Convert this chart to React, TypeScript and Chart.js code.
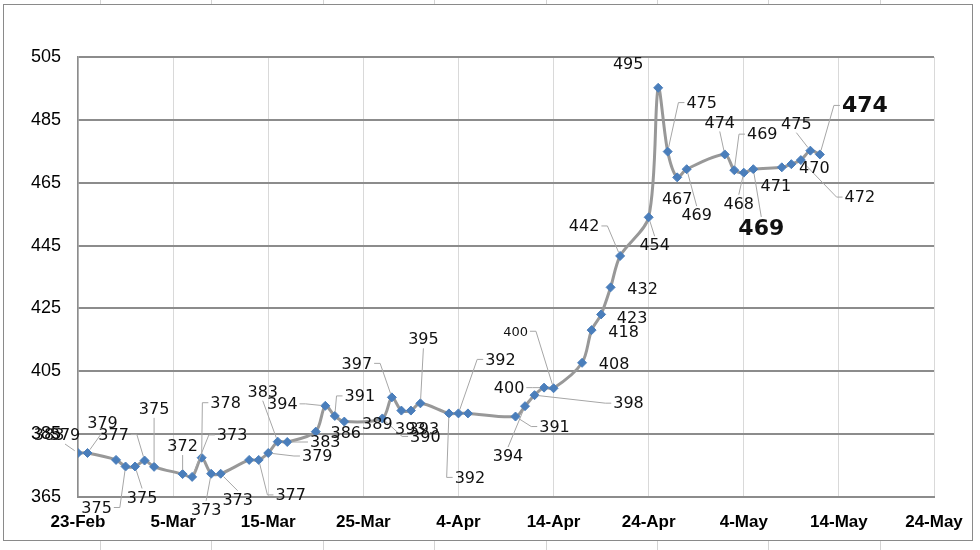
import React, { useEffect, useRef } from 'react';
import { Chart, registerables } from 'chart.js';

Chart.register(...registerables);

// ---------------- DATA ----------------
const dates = [
  '23-Feb', '24-Feb', '27-Feb', '28-Feb', '1-Mar', '2-Mar', '3-Mar',
  '6-Mar', '7-Mar', '8-Mar', '9-Mar', '10-Mar', '13-Mar', '14-Mar', '15-Mar',
  '16-Mar', '17-Mar', '20-Mar', '21-Mar', '22-Mar', '23-Mar', '27-Mar',
  '28-Mar', '29-Mar', '30-Mar', '31-Mar', '3-Apr', '4-Apr', '5-Apr',
  '10-Apr', '11-Apr', '12-Apr', '13-Apr', '14-Apr', '17-Apr', '18-Apr',
  '19-Apr', '20-Apr', '21-Apr', '24-Apr', '25-Apr', '26-Apr', '27-Apr',
  '28-Apr', '2-May', '3-May', '4-May', '5-May', '8-May', '9-May', '10-May',
  '11-May', '12-May',
];

const prices = [
  379, 379, 376.8, 374.7, 374.7, 376.6, 374.6,
  372.3, 371.4, 377.5, 372.4, 372.4, 376.8, 376.8, 379,
  382.6, 382.5, 385.8, 394, 390.8, 389, 390,
  396.7, 392.5, 392.5, 394.8, 391.6, 391.6, 391.6,
  390.6, 393.9, 397.4, 399.8, 399.6, 407.7, 418.1,
  423.1, 431.7, 441.7, 454, 495.2, 474.9, 466.7,
  469.3, 474, 469, 468.2, 469.3, 469.9, 470.9, 472.2,
  475.2, 474,
];

// data label texts as printed next to each point ('' = no label)
const labelTexts = [
  '379', '379', '383', '375', '375', '377', '375',
  '372', '373', '378', '373', '373', '', '377', '379',
  '383', '383', '386', '394', '391', '389', '390',
  '397', '393', '393', '395', '392', '392', '',
  '391', '394', '398', '400', '400', '408', '418',
  '423', '432', '442', '454', '495', '475', '467',
  '469', '474', '469', '468', '469', '471', '470', '472',
  '475', '474',
];

const tickLabels = ['23-Feb', '5-Mar', '15-Mar', '25-Mar', '4-Apr', '14-Apr', '24-Apr', '4-May', '14-May', '24-May'];
const yMin = 365;
const yMax = 505;
const yStep = 20;

// ---------------- LABEL PLACEMENT (styling) ----------------
// offset of label centre from its point, in px
const labelOffsets: [number, number][] = [
  [-13, -18], [15, -30], [-67, -25], [-29, 41], [7, 31], [-31, -26], [0, -58],
  [0, -28], [40, -42], [24, -55], [-5, 36], [17, 26], [0, 0], [32, 35], [49, 3],
  [-15, -50], [38, 0], [30, 1], [-43, -2], [25, -20], [33, 2], [43, 18],
  [-35, -34], [9, 18], [13, 18], [3, -64], [21, 64], [42, -54], [0, 0],
  [39, 10], [-17, 50], [94, 8], [-35, 0], [-38, -57], [32, 1], [32, 2],
  [31, 3], [32, 1], [-36, -30], [6, 28], [-30, -24], [34, -49], [0, 21],
  [10, 46], [-5, -32], [28, -36], [-5, 31], [8, 59], [-6, 19], [23, 4], [59, 37],
  [-14, -27], [45, -49],
];
const leaderIdx = [0, 1, 3, 4, 5, 6, 7, 8, 9, 10, 11, 13, 14, 15, 16, 18, 19, 21, 22, 25, 26, 27,
  29, 30, 31, 32, 33, 38, 39, 41, 43, 44, 45, 46, 47, 50, 51, 52];
const bigIdx = [47, 52];
const smallIdx = [33];

const MONTHS: Record<string, number> = { Jan: 0, Feb: 1, Mar: 2, Apr: 3, May: 4, Jun: 5 };
const dayOffset = (s: string) => {
  const [d, m] = s.split('-');
  return (Date.UTC(2017, MONTHS[m], +d) - Date.UTC(2017, 1, 23)) / 86400000;
};

const points = dates.map((d, i) => ({ x: dayOffset(d), y: prices[i] }));

const LABEL_FONT = '"DejaVu Sans", Verdana, sans-serif';
const AXIS_FONT = '"Liberation Sans Narrow", "Liberation Sans", Arial, sans-serif';

const labelPlugin = {
  id: 'excelLabels',
  afterDatasetsDraw(chart: any) {
    const ctx = chart.ctx as CanvasRenderingContext2D;
    const meta = chart.getDatasetMeta(0);
    ctx.save();
    const boxes: any[] = [];
    labelTexts.forEach((t, i) => {
      if (!t) return;
      const el = meta.data[i];
      const big = bigIdx.includes(i);
      const small = smallIdx.includes(i);
      const size = big ? 22 : small ? 13 : 16;
      ctx.font = `${big ? 'bold ' : ''}${size}px ${LABEL_FONT}`;
      const w = ctx.measureText(t).width;
      const h = size * 0.75;
      const cx = el.x + labelOffsets[i][0];
      const cy = el.y + labelOffsets[i][1];
      boxes.push({ t, i, cx, cy, w, h, font: ctx.font, px: el.x, py: el.y });
    });
    ctx.strokeStyle = '#a6a6a6';
    ctx.lineWidth = 1;
    boxes.forEach((b) => {
      if (!leaderIdx.includes(b.i)) return;
      const l = b.cx - b.w / 2 - 2, r = b.cx + b.w / 2 + 2;
      const t = b.cy - b.h / 2 - 3, bt = b.cy + b.h / 2 + 3;
      ctx.beginPath();
      let sx: number, sy: number;
      if (b.px < l || b.px > r) {
        const side = b.px < l ? l : r;
        const dir = b.px < l ? -1 : 1;
        ctx.moveTo(side, b.cy);
        sx = side + dir * 6; sy = b.cy;
        ctx.lineTo(sx, sy);
      } else {
        sx = b.cx; sy = b.py < t ? t : bt;
        ctx.moveTo(sx, sy);
      }
      const dx = b.px - sx, dy = b.py - sy;
      const d = Math.hypot(dx, dy) || 1;
      const stop = 4;
      ctx.lineTo(b.px - (dx / d) * stop, b.py - (dy / d) * stop);
      ctx.stroke();
    });
    ctx.fillStyle = '#111';
    ctx.textAlign = 'center';
    ctx.textBaseline = 'middle';
    boxes.forEach((b) => {
      ctx.font = b.font;
      ctx.fillText(b.t, b.cx, b.cy + 1);
    });
    ctx.restore();
  },
};

export default function App() {
  const ref = useRef<HTMLCanvasElement | null>(null);

  useEffect(() => {
    if (!ref.current) return;
    const chart = new Chart(ref.current, {
      type: 'line',
      data: {
        datasets: [
          {
            data: points,
            borderColor: '#989898',
            borderWidth: 3,
            tension: 0.3,
            pointStyle: 'rectRot',
            pointRadius: 4.5,
            pointBackgroundColor: '#4a7ebb',
            pointBorderColor: '#4a7ebb',
            pointBorderWidth: 1,
          },
        ],
      },
      options: {
        animation: false,
        responsive: false,
        maintainAspectRatio: false,
        layout: { padding: { top: 57, right: 46, left: 0, bottom: 0 } },
        plugins: { legend: { display: false }, tooltip: { enabled: false } },
        scales: {
          x: {
            type: 'linear',
            min: 0,
            max: 90,
            afterFit: (s: any) => { s.height = 53; },
            afterBuildTicks: (s: any) => {
              s.ticks = tickLabels.map((_, k) => ({ value: k * 10 }));
            },
            ticks: {
              autoSkip: false,
              maxRotation: 0,
              padding: 15,
              color: '#000',
              font: { family: AXIS_FONT, size: 17, weight: 'bold' },
              callback: (v: any) => tickLabels[Math.round(Number(v) / 10)] ?? '',
            },
            grid: { color: '#d9d9d9', lineWidth: 1, drawTicks: false },
            border: { display: true, color: '#8c8c8c', width: 2 },
          },
          y: {
            min: yMin,
            max: yMax,
            afterFit: (s: any) => { s.width = 78; },
            ticks: {
              stepSize: yStep,
              padding: 17,
              color: '#000',
              font: { family: AXIS_FONT, size: 18 },
            },
            grid: { color: '#8c8c8c', lineWidth: 2, drawTicks: false },
            border: { display: true, color: '#8c8c8c', width: 1.5 },
          },
        },
      },
      plugins: [labelPlugin],
    });
    return () => chart.destroy();
  }, []);

  const sheetCols = [100, 211, 323, 434, 546, 657, 768, 880];

  return (
    <div style={{ position: 'fixed', left: 0, top: 0, width: 980, height: 550, background: '#fff', overflow: 'hidden' }}>
      {sheetCols.map((x) => (
        <div key={x} style={{ position: 'absolute', left: x, top: 0, width: 1, height: 550, background: '#d4d4d4' }} />
      ))}
      <div style={{ position: 'absolute', left: 3, top: 4, width: 968, height: 535, background: '#fff', border: '1px solid #8a8a8a' }} />
      <canvas ref={ref} width={980} height={550} style={{ position: 'absolute', left: 0, top: 0, width: 980, height: 550 }} />
    </div>
  );
}
